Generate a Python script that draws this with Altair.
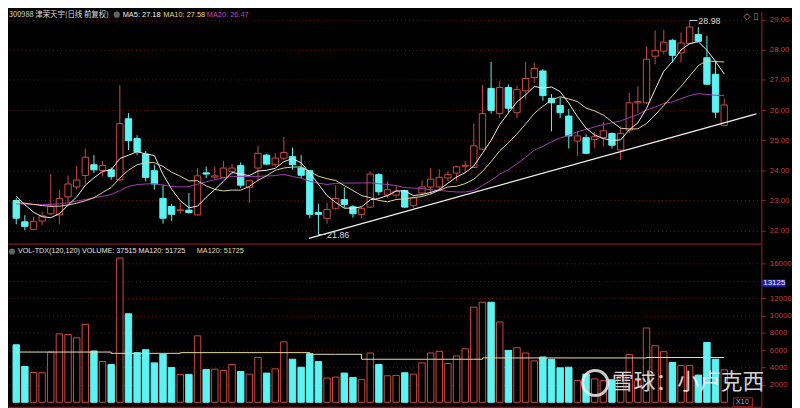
import altair as alt
import pandas as pd

# ---------------- data ----------------
opens = [22.99, 22.28, 22.03, 22.31, 22.55, 22.51, 23.11, 23.44, 23.82, 24.18,
         23.99, 24.01, 23.68, 25.71, 25.05, 24.53, 23.98, 23.06, 22.79, 22.65,
         22.67, 22.51, 23.91, 23.77, 23.76, 23.96, 24.15, 23.43, 24.07, 24.50,
         24.18, 24.40, 24.45, 24.07, 23.98, 22.59, 22.40, 22.73, 23.02, 22.78,
         22.53, 22.77, 23.85, 23.17, 23.17, 23.32, 22.83, 23.24, 23.44, 23.44,
         23.74, 23.90, 24.13, 24.09, 24.70, 26.72, 25.88, 26.75, 25.91, 26.64,
         27.08, 27.30, 26.39, 26.15, 25.80, 24.97, 25.08, 25.02, 25.08, 25.22,
         24.67, 25.33, 26.24, 26.24, 27.79, 27.96, 28.32, 27.90, 28.21, 28.51,
         27.74, 27.19, 25.49]
highs = [23.08, 22.50, 22.45, 22.61, 23.87, 23.35, 23.82, 24.14, 24.72, 24.50,
         24.31, 24.09, 26.83, 25.90, 25.16, 24.64, 24.18, 23.52, 22.88, 22.91,
         23.24, 24.07, 24.12, 24.12, 24.31, 24.20, 24.26, 23.67, 24.81, 24.54,
         24.56, 25.11, 24.75, 24.50, 24.00, 22.88, 22.91, 23.50, 23.43, 22.84,
         22.75, 23.96, 23.90, 23.63, 23.50, 23.35, 23.13, 23.66, 24.07, 24.03,
         23.96, 24.15, 24.31, 25.55, 26.83, 27.60, 26.97, 26.86, 26.81, 27.60,
         27.58, 27.36, 26.53, 26.42, 26.04, 25.29, 25.19, 25.27, 25.60, 25.25,
         25.44, 26.57, 26.79, 28.12, 28.65, 28.67, 28.36, 28.58, 28.98, 28.76,
         28.47, 27.60, 26.39]
lows = [22.20, 22.00, 22.00, 22.18, 22.51, 22.20, 22.91, 23.35, 23.52, 23.90,
        23.79, 23.68, 23.63, 24.67, 24.50, 23.63, 23.35, 22.22, 22.31, 22.55,
        22.55, 22.49, 23.74, 23.71, 23.74, 23.85, 23.41, 22.91, 23.63, 24.18,
        24.12, 24.34, 24.01, 23.74, 22.40, 21.86, 22.22, 22.69, 22.75, 22.42,
        22.40, 22.75, 23.17, 23.08, 23.08, 22.73, 22.75, 23.13, 23.19, 23.30,
        23.63, 23.65, 23.90, 24.07, 24.67, 25.88, 25.73, 25.93, 25.73, 26.35,
        26.90, 26.31, 25.29, 25.73, 24.72, 24.48, 24.53, 24.72, 24.78, 24.72,
        24.34, 25.22, 25.91, 26.20, 27.52, 27.85, 27.58, 27.58, 28.18, 28.26,
        26.83, 25.73, 25.47]
closes = [22.40, 22.13, 22.30, 22.48, 22.79, 23.06, 23.54, 23.67, 24.43, 24.01,
          24.15, 23.79, 25.55, 24.98, 24.61, 23.76, 23.54, 22.40, 22.53, 22.68,
          22.59, 23.81, 23.87, 23.81, 24.07, 24.07, 23.50, 23.65, 24.56, 24.20,
          24.40, 24.59, 24.18, 23.83, 22.53, 22.53, 22.69, 23.06, 22.86, 22.55,
          22.73, 23.87, 23.28, 23.35, 23.30, 22.77, 23.08, 23.44, 23.70, 23.76,
          23.85, 24.11, 24.16, 24.81, 25.88, 25.99, 26.75, 26.06, 26.68, 27.05,
          27.38, 26.48, 26.24, 25.91, 25.14, 25.14, 24.56, 25.11, 25.31, 24.83,
          25.22, 26.24, 26.28, 27.69, 27.99, 28.26, 27.82, 28.23, 28.76, 28.29,
          26.86, 25.93, 26.17]
volumes = [6640, 4130, 3440, 3410, 5800, 7900, 7820, 7440, 9000, 5920,
           4700, 4360, 16650, 10220, 5730, 6070, 4550, 5540, 4010, 3220,
           3220, 7670, 3790, 3820, 3670, 4360, 3560, 3250, 5160, 3370,
           3860, 6980, 4970, 4050, 5610, 4700, 2800, 2910, 3370, 2870,
           2640, 5690, 4360, 3060, 3100, 3410, 3250, 4550, 5690, 5880,
           4470, 5350, 6180, 10980, 11550, 11550, 9270, 5990, 6300, 5690,
           4780, 5230, 4970, 3980, 4050, 2500, 3250, 2700, 2500, 2600,
           3000, 5500, 2500, 8580, 6530, 5840, 4590, 4240, 4240, 3140,
           6910, 4970, 3750]
# moving-average values of the first bars (history before the window)
ma5_head = [23.13, 22.85, 22.60, 22.45]
ma10_head = [22.92, 22.90, 22.86, 22.82, 22.80, 22.80, 22.84, 22.90, 22.98]
ma20_head = [22.88, 22.87, 22.86, 22.85, 22.86, 22.88, 22.91, 22.97, 23.02, 23.08,
             23.13, 23.19, 23.32, 23.46, 23.52, 23.54, 23.55, 23.50, 23.46]
# volume MA120 line
vma_idx = [0, 10, 11, 18, 19, 33, 34, 37, 40, 53, 54, 72, 73, 82]
vma_val = [5800, 5800, 5650, 5650, 5730, 5730, 5540, 5540, 4970, 4970, 5120, 5120, 5170, 5170]
# trend line
trend_x = [33.9, 85.73]
trend_y = [21.73, 25.875]
price_ticks = [22, 23, 24, 25, 26, 27, 28, 29]
vol_ticks = [2000, 4000, 6000, 8000, 10000, 12000, 14000, 16000]

# ---------------- styling ----------------
W, H1, H2 = 762, 235, 165
RED = "#cc4a40"
CYAN = "#5ff2f2"
MA5C, MA10C, MA20C = "#f0f0f0", "#ddd59a", "#a63cb4"
AXC = "#a02020"
LABC = "#c43c3c"
GRIDC = "#701818"
LAT = "Liberation Sans, Arial, sans-serif"
CJK = "Noto Sans CJK SC, Liberation Sans, sans-serif"

n = len(closes)
pad = lambda a: a + [None] * (n - len(a))
df = pd.DataFrame({"idx": list(range(n)), "open": opens, "high": highs, "low": lows,
                   "close": closes, "vol": volumes,
                   "h5": pad(ma5_head), "h10": pad(ma10_head), "h20": pad(ma20_head)})

XS = alt.Scale(domain=[-0.381, 85.73], nice=False, zero=False)
YS = alt.Scale(domain=[21.556, 29.286], nice=False, zero=False)
VS = alt.Scale(domain=[-514, 18322], nice=False, zero=False)

XAX = alt.Axis(labels=False, ticks=False, grid=False, domain=True, domainColor=AXC,
               title=None, orient="bottom")
YAX = alt.Axis(orient="right", values=price_ticks, format=".2f", grid=True, gridColor=GRIDC,
               gridDash=[1, 3], labelColor=LABC, labelFont=LAT, labelFontSize=8, tickColor=AXC,
               tickSize=4, labelPadding=4, domainColor=AXC, title=None)
VAX = alt.Axis(orient="right", values=vol_ticks, format="d", grid=True, gridColor=GRIDC,
               gridDash=[1, 3], labelColor=LABC, labelFont=LAT, labelFontSize=8, tickColor=AXC,
               tickSize=4, labelPadding=4, domainColor=AXC, title=None,
               labelExpr="datum.value == 14000 ? '' : datum.label")


def X(f):
    return alt.X(f, scale=XS, axis=XAX)


def Y(f):
    return alt.Y(f, scale=YS, axis=YAX)


def V(f):
    return alt.Y(f, scale=VS, axis=VAX)


up = "datum.close >= datum.open"
line_col = alt.when(up).then(alt.value(RED)).otherwise(alt.value(CYAN))
body_fill = alt.when(up).then(alt.value("#000000")).otherwise(alt.value(CYAN))

base = alt.Chart(df)
wicks = base.mark_rule(strokeWidth=1).encode(x=X("idx:Q"), y=Y("low:Q"), y2="high:Q", color=line_col)
bodies = base.mark_bar(width=6.4, strokeWidth=1).encode(
    x=X("idx:Q"), y=Y("open:Q"), y2="close:Q", fill=body_fill, stroke=line_col)

ma = (base.transform_window(w5="mean(close)", frame=[-4, 0], sort=[alt.SortField("idx")])
      .transform_window(w10="mean(close)", frame=[-9, 0], sort=[alt.SortField("idx")])
      .transform_window(w20="mean(close)", frame=[-19, 0], sort=[alt.SortField("idx")])
      .transform_calculate(ma5="datum.idx < 4 ? datum.h5 : datum.w5",
                           ma10="datum.idx < 9 ? datum.h10 : datum.w10",
                           ma20="datum.idx < 19 ? datum.h20 : datum.w20"))
ma20 = ma.mark_line(color=MA20C, strokeWidth=1).encode(x=X("idx:Q"), y=Y("ma20:Q"))
ma10 = ma.mark_line(color=MA10C, strokeWidth=1).encode(x=X("idx:Q"), y=Y("ma10:Q"))
ma5 = ma.mark_line(color=MA5C, strokeWidth=1).encode(x=X("idx:Q"), y=Y("ma5:Q"))

trend = alt.Chart(pd.DataFrame({"x": trend_x, "y": trend_y})).mark_line(
    color="#f2f2f2", strokeWidth=1.3).encode(x=X("x:Q"), y=Y("y:Q"))

ann = pd.DataFrame({"x": [35.0, 78.0], "x2": [35.85, 78.9], "tx": [36.0, 79.0],
                    "y": [21.86, 28.98], "t": ["21.86", "28.98"]})
ann_rule = alt.Chart(ann).mark_rule(color="#d0d0d0", strokeWidth=1).encode(
    x=X("x:Q"), x2="x2:Q", y=Y("y:Q"))
ann_text = alt.Chart(ann).mark_text(color="#d8d8d8", font=LAT, fontSize=9, align="left",
                                    baseline="middle", dy=1).encode(
    x=X("tx:Q"), y=Y("y:Q"), text="t:N")

one = pd.DataFrame({"a": [0]})


def label(txt, px, py, color, size=7.5, font=LAT, align="left", **kw):
    return alt.Chart(one).mark_text(text=txt, color=color, fontSize=size, font=font, align=align,
                                    baseline="middle", **kw).encode(x=alt.value(px), y=alt.value(py))


HY = 3.5
icon1 = alt.Chart(one).mark_point(filled=True, color="#8a8a8a", size=40, shape="circle").encode(
    x=alt.value(110), y=alt.value(HY))
hdr = [
    label("300988 津荣天宇(日线 前复权)", 1, HY, "#dcdcdc", size=7.5, font=CJK),
    icon1,
    label("MA5: 27.18", 116, HY, MA5C),
    label("MA10: 27.58", 157, HY, "#e6dc8c"),
    label("MA20: 26.47", 201, HY, "#c444c4"),
    label("◇ ▯", 744, HY + 1, "#9a9a9a", size=9, font="DejaVu Sans"),
]

top = alt.layer(wicks, bodies, ma20, ma10, ma5, trend, ann_rule, ann_text, *hdr).properties(
    width=W, height=H1)

# ---------------- volume panel ----------------
vbars = base.mark_bar(width=6.5, strokeWidth=1).encode(
    x=X("idx:Q"), y=V("vol:Q"), y2=alt.datum(0), fill=body_fill, stroke=line_col)
vma = alt.Chart(pd.DataFrame({"i": vma_idx, "v": vma_val})).mark_line(
    color="#e6dfa6", strokeWidth=1, interpolate="step-after").encode(x=X("i:Q"), y=V("v:Q"))

cur_box = alt.Chart(one).mark_rect(color="#2424b4").encode(
    x=alt.value(W + 1), x2=alt.value(W + 24), y=alt.datum(13330, scale=VS, axis=VAX),
    y2=alt.datum(14180))
cur_txt = alt.Chart(one).mark_text(text="13125", color="#f0f0f0", fontSize=8, font=LAT, align="left",
                                   baseline="middle").encode(
    x=alt.value(W + 2), y=alt.datum(13755, scale=VS, axis=VAX))
icon2 = alt.Chart(one).mark_point(filled=True, color="#8a8a8a", size=40, shape="circle").encode(
    x=alt.value(4), y=alt.value(8))
x10_box = alt.Chart(one).mark_rect(fill="#000000", stroke=AXC, strokeWidth=1).encode(
    x=alt.value(734), x2=alt.value(753), y=alt.value(156), y2=alt.value(165))
logo = alt.Chart(one).mark_point(filled=False, color="#eeeeee", strokeWidth=3, size=650,
                                 shape="circle", opacity=0.85).encode(x=alt.value(594), y=alt.value(141))
vhdr = [
    icon2,
    label("VOL-TDX(120,120) VOLUME: 37515 MA120: 51725", 10, 8, "#e0e0e0", size=7.3),
    label("MA120: 51725", 191, 8, "#e6dc8c", size=7.3),
    cur_box, cur_txt, x10_box,
    label("X10", 736, 160.5, "#a8a8a8", size=7.5),
    logo,
    label("雪球：小卢克西", 611, 140, "#f0f0f0", size=22, font=CJK, opacity=0.88),
]
bottom = alt.layer(vbars, vma, *vhdr).properties(width=W, height=H2)

chart = (alt.vconcat(top, bottom, spacing=0)
         .properties(padding={"left": 0, "top": 0, "right": 0, "bottom": 0})
         .configure(background="#000000")
         .configure_view(stroke=None))

chart.save("out.html", embed_options={"renderer": "svg", "actions": False})
